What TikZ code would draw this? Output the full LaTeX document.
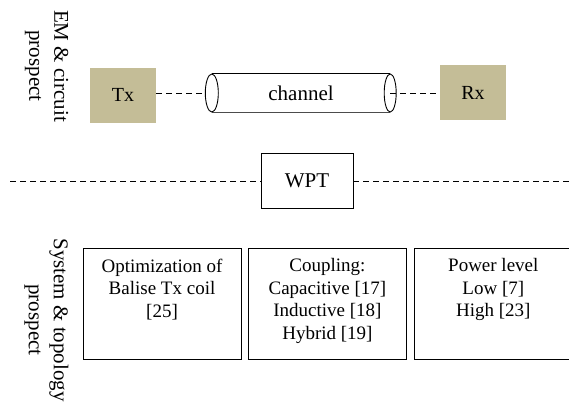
\documentclass[tikz,border=0pt]{standalone}
\usepackage{fontspec}
\setmainfont{Liberation Serif}
\usetikzlibrary{positioning}
\definecolor{tan}{HTML}{C4BD97}

\begin{document}
\begin{tikzpicture}[x=1pt,y=-1pt,
endbox/.style={fill=tan, minimum width=66pt, minimum height=55pt, font=\fontsize{20}{24}\selectfont},
frame/.style={draw=black, line width=0.9pt, inner sep=0pt},
listbox/.style={frame, minimum width=158pt, minimum height=111pt},
listtext/.style={inner sep=0pt, align=center, anchor=north, font=\fontsize{19}{22.5}\selectfont},
side/.style={rotate=-90, align=center, font=\fontsize{21}{25}\selectfont},
link/.style={line width=0.9pt, dash pattern=on 6pt off 4pt},
]
\useasboundingbox (0,0) rectangle (569,402);
% side labels
\node[side](em) at (46.5,66) {EM \& circuit\\prospect};
\node[side](sys) at (46.5,320) {System \& topology\\prospect};
% EM level
\node[endbox](tx) at (123,95) {Tx};
\node[endbox](rx) at (473,92.5) {Rx};
\node[minimum width=178pt, minimum height=38pt, inner sep=0pt, font=\fontsize{21}{25}\selectfont](ch) at (301,93) {channel};
\draw[line width=0.9pt] (ch.north west) -- (ch.north east);
\draw[line width=1.2pt, black!70] (ch.south west) -- (ch.south east);
\draw[line width=0.9pt, fill=white] (ch.west) ellipse [x radius=6.5pt, y radius=19pt];
\draw[line width=0.9pt] (ch.east) ellipse [x radius=6pt, y radius=19pt];
\draw[link] (tx.east |- ch.west) -- ([xshift=-6.5pt]ch.west);
\draw[link] (ch.east) -- (rx.west |- ch.east);
% WPT
\node[frame, minimum width=92pt, minimum height=55pt, font=\fontsize{21}{25}\selectfont](wpt) at (307,181) {WPT};
\coordinate (l0) at (10,181);
\coordinate (l1) at (569,181);
\draw[link] (l0) -- (wpt.west);
\draw[link] (wpt.east) -- (l1);
% system level
\node[listbox](b1) at (162,303.5) {};
\node[listbox](b2)[right=6.5pt of b1] {};
\node[listbox](b3)[right=7pt of b2] {};
\node[listtext](t1) at ([yshift=-11pt]b1.north) {Optimization of\\Balise Tx coil\\{[25]}};
\node[listtext](t2) at ([yshift=-11pt]b2.north) {Coupling:\\Capacitive [17]\\Inductive [18]\\Hybrid [19]};
\node[listtext](t3) at ([yshift=-11pt]b3.north) {Power level\\Low [7]\\High [23]};
\end{tikzpicture}
\end{document}
